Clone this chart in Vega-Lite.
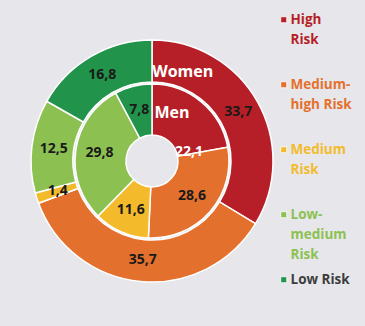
{
  "$schema": "https://vega.github.io/schema/vega-lite/v6.json",
  "width": 276,
  "height": 304,
  "autosize": "none",
  "padding": {"left": 14, "top": 9, "right": 75, "bottom": 13},
  "background": "#e7e7eb",
  "config": {
    "view": {"stroke": null},
    "locale": {"number": {"decimal": ",", "thousands": ".", "grouping": [3], "currency": ["", " €"]}},
    "text": {"font": "Open Sans", "fontWeight": "bold"}
  },
  "data": {
    "values": [
      {"ring": "Women", "risk": "High Risk", "k": 1, "value": 33.7},
      {"ring": "Women", "risk": "Medium-high Risk", "k": 2, "value": 35.7},
      {"ring": "Women", "risk": "Medium Risk", "k": 3, "value": 1.4},
      {"ring": "Women", "risk": "Low-medium Risk", "k": 4, "value": 12.5},
      {"ring": "Women", "risk": "Low Risk", "k": 5, "value": 16.8},
      {"ring": "Men", "risk": "High Risk", "k": 1, "value": 22.1},
      {"ring": "Men", "risk": "Medium-high Risk", "k": 2, "value": 28.6},
      {"ring": "Men", "risk": "Medium Risk", "k": 3, "value": 11.6},
      {"ring": "Men", "risk": "Low-medium Risk", "k": 4, "value": 29.8},
      {"ring": "Men", "risk": "Low Risk", "k": 5, "value": 7.8}
    ]
  },
  "layer": [
    {
      "transform": [{"filter": "datum.ring === 'Women'"}],
      "mark": {"type": "arc", "radius": 121, "radius2": 79, "stroke": "white", "strokeWidth": 1.5},
      "encoding": {
        "theta": {"field": "value", "type": "quantitative", "stack": "normalize"},
        "order": {"field": "k", "type": "quantitative"},
        "color": {
          "field": "risk",
          "type": "nominal",
          "scale": {
            "domain": ["High Risk", "Medium-high Risk", "Medium Risk", "Low-medium Risk", "Low Risk"],
            "range": ["#b61f27", "#e4702d", "#f3bb2b", "#8cc152", "#21934a"]
          },
          "legend": {
            "title": null,
            "orient": "none",
            "legendX": 263,
            "legendY": 4,
            "padding": 0,
            "symbolType": "square",
            "symbolSize": 36,
            "symbolStrokeWidth": 0.8,
            "symbolStrokeColor": "white",
            "labelFont": "Open Sans",
            "labelFontWeight": "bold",
            "labelFontSize": 13.5,
            "labelOffset": 0,
            "labelLimit": 200,
            "labelBaseline": "top",
            "rowPadding": 10,
            "gridAlign": "all",
            "labelExpr": "datum.label === 'High Risk' ? ['High', 'Risk'] : datum.label === 'Medium-high Risk' ? ['Medium-', 'high Risk'] : datum.label === 'Medium Risk' ? ['Medium', 'Risk'] : datum.label === 'Low-medium Risk' ? ['Low-', 'medium', 'Risk'] : datum.label",
            "encode": {
              "labels": {
                "update": {
                  "fill": {"signal": "datum.value === 'Low Risk' ? '#3d3d3d' : scale('color', datum.value)"},
                  "lineHeight": {"value": 20},
                  "dy": {"value": -7}
                }
              }
            }
          }
        }
      }
    },
    {
      "transform": [{"filter": "datum.ring === 'Men'"}],
      "mark": {"type": "arc", "radius": 77, "radius2": 26, "stroke": "white", "strokeWidth": 1.5},
      "encoding": {
        "theta": {"field": "value", "type": "quantitative", "stack": "normalize"},
        "order": {"field": "k", "type": "quantitative"},
        "color": {"field": "risk", "type": "nominal"}
      }
    },
    {
      "transform": [{"filter": "datum.ring === 'Women'"}],
      "mark": {"type": "text", "radius": 99, "fontSize": 14, "color": "#1a1a1a"},
      "encoding": {
        "theta": {"field": "value", "type": "quantitative", "stack": "normalize"},
        "order": {"field": "k", "type": "quantitative"},
        "text": {"field": "value", "type": "quantitative", "format": ".1f"}
      }
    },
    {
      "transform": [{"filter": "datum.ring === 'Men'"}],
      "mark": {"type": "text", "radius": 53, "fontSize": 14, "color": "#1a1a1a"},
      "encoding": {
        "theta": {"field": "value", "type": "quantitative", "stack": "normalize"},
        "order": {"field": "k", "type": "quantitative"},
        "text": {"field": "value", "type": "quantitative", "format": ".1f"},
        "opacity": {"condition": {"test": "datum.risk === 'High Risk'", "value": 0}, "value": 1}
      }
    },
    {
      "transform": [{"filter": "datum.ring === 'Men'"}],
      "mark": {"type": "text", "radius": 53, "fontSize": 14, "color": "white", "dx": 3, "dy": 32},
      "encoding": {
        "theta": {"field": "value", "type": "quantitative", "stack": "normalize"},
        "order": {"field": "k", "type": "quantitative"},
        "text": {"field": "value", "type": "quantitative", "format": ".1f"},
        "opacity": {"condition": {"test": "datum.risk === 'High Risk'", "value": 1}, "value": 0}
      }
    },
    {
      "data": {"values": [{"label": "Women", "pos": 0.053}]},
      "mark": {"type": "text", "radius": 94, "fontSize": 16, "color": "white"},
      "encoding": {
        "theta": {"field": "pos", "type": "quantitative"},
        "text": {"field": "label"}
      }
    },
    {
      "data": {"values": [{"label": "Men", "pos": 0.063}]},
      "mark": {"type": "text", "radius": 52, "fontSize": 16, "color": "white"},
      "encoding": {
        "theta": {"field": "pos", "type": "quantitative"},
        "text": {"field": "label"}
      }
    }
  ]
}
